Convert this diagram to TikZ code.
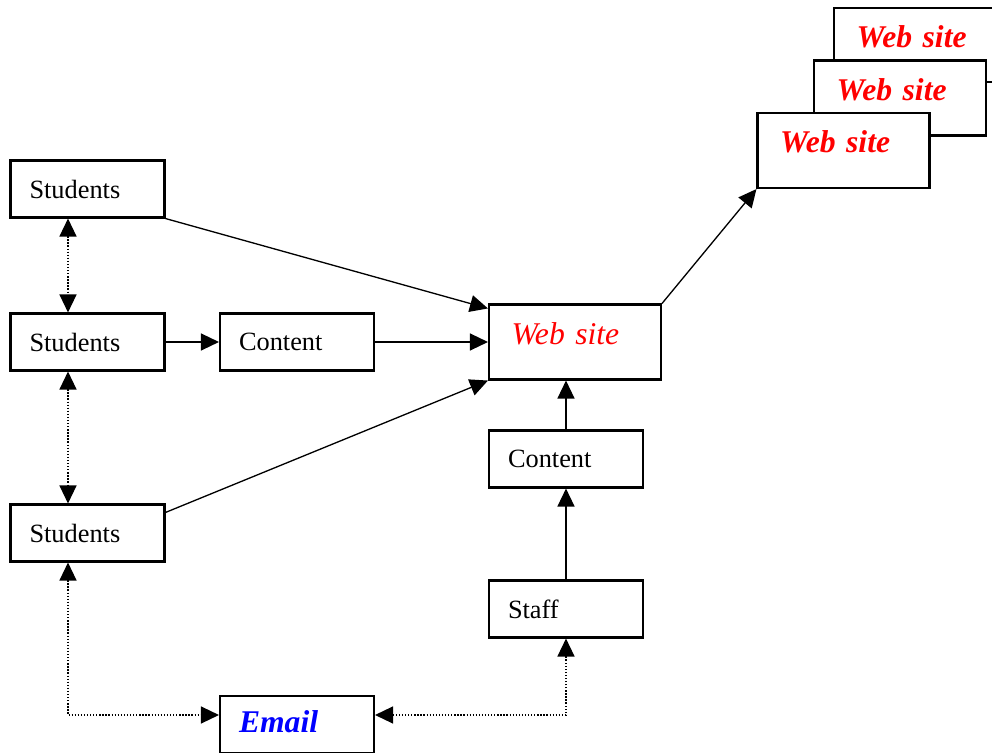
\documentclass[tikz,border=0pt]{standalone}
\usepackage{fontspec}
\setmainfont{Liberation Serif}
\usetikzlibrary{arrows.meta,positioning}
\definecolor{webred}{RGB}{255,0,0}
\definecolor{mailblue}{RGB}{0,0,255}

\tikzset{
  box/.style={draw, line width=1.2pt, fill=white, minimum width=3.08cm, minimum height=1.14cm,
    text width=2.32cm, inner xsep=0.38cm, align=left, font=\fontsize{15}{17}\selectfont},
  webbox/.style={box, minimum width=3.44cm, minimum height=1.5cm, text width=2.54cm,
    inner xsep=0.45cm, text=webred, text depth=0.35cm, font=\fontsize{18}{20}\selectfont\bfseries\itshape},
  link/.style={line width=0.75pt, -{Triangle[length=0.36cm,width=0.34cm]}},
  dotlink/.style={line width=0.75pt, densely dotted,
    {Triangle[length=0.36cm,width=0.34cm]}-{Triangle[length=0.36cm,width=0.34cm]}},
}

\begin{document}
\begin{tikzpicture}[x=0.02cm, y=-0.02cm]
\clip (0,0) rectangle (992,753);
\fill[white] (0,0) rectangle (992,753);

% left column
\node[box] (s1) at (87.5,189) {Students};
\node[box] (s2) at (87.5,342) {Students};
\node[box] (s3) at (87.5,533) {Students};
\node[box] (c1) at (297,342) {Content};

% centre
\node[webbox, font=\fontsize{18}{20}\selectfont\itshape] (web) at (575,342) {Web site};
\node[box] (c2) at (566,459) {Content};
\node[box] (staff) at (566,609) {Staff};
\node[box, text=mailblue, text depth=0.12cm, font=\fontsize{18}{20}\selectfont\bfseries\itshape] (email) at (297,724.5) {Email};

% stacked web sites
\node[webbox, minimum height=1.48cm] (back) at (920,45) {Web site};
\node[webbox] (mid) at (900,98) {Web site};
\node[webbox] (front) at (843.5,150.5) {Web site};

% solid links
\draw[link] (s1.south east) -- ([yshift=-0.1cm]web.north west);
\draw[link] (s2) -- (c1);
\draw[link] (c1) -- (c1 -| web.west);
\draw[link] ([yshift=-0.18cm]s3.north east) -- (web.south west);
\draw[link] (web.north east) -- (front.south west);
\draw[link] (c2.north) -- (c2.north |- web.south);
\draw[link] (staff) -- (c2);

% dotted links
\draw[dotlink] ([xshift=-0.39cm]s1.south) -- ([xshift=-0.39cm]s2.north);
\draw[dotlink] ([xshift=-0.39cm]s2.south) -- ([xshift=-0.39cm]s3.north);
\draw[dotlink] ([xshift=-0.39cm]s3.south) |- ([yshift=0.19cm]email.west);
\draw[dotlink] ([yshift=0.19cm]email.east) -| (staff.south);
\end{tikzpicture}
\end{document}
